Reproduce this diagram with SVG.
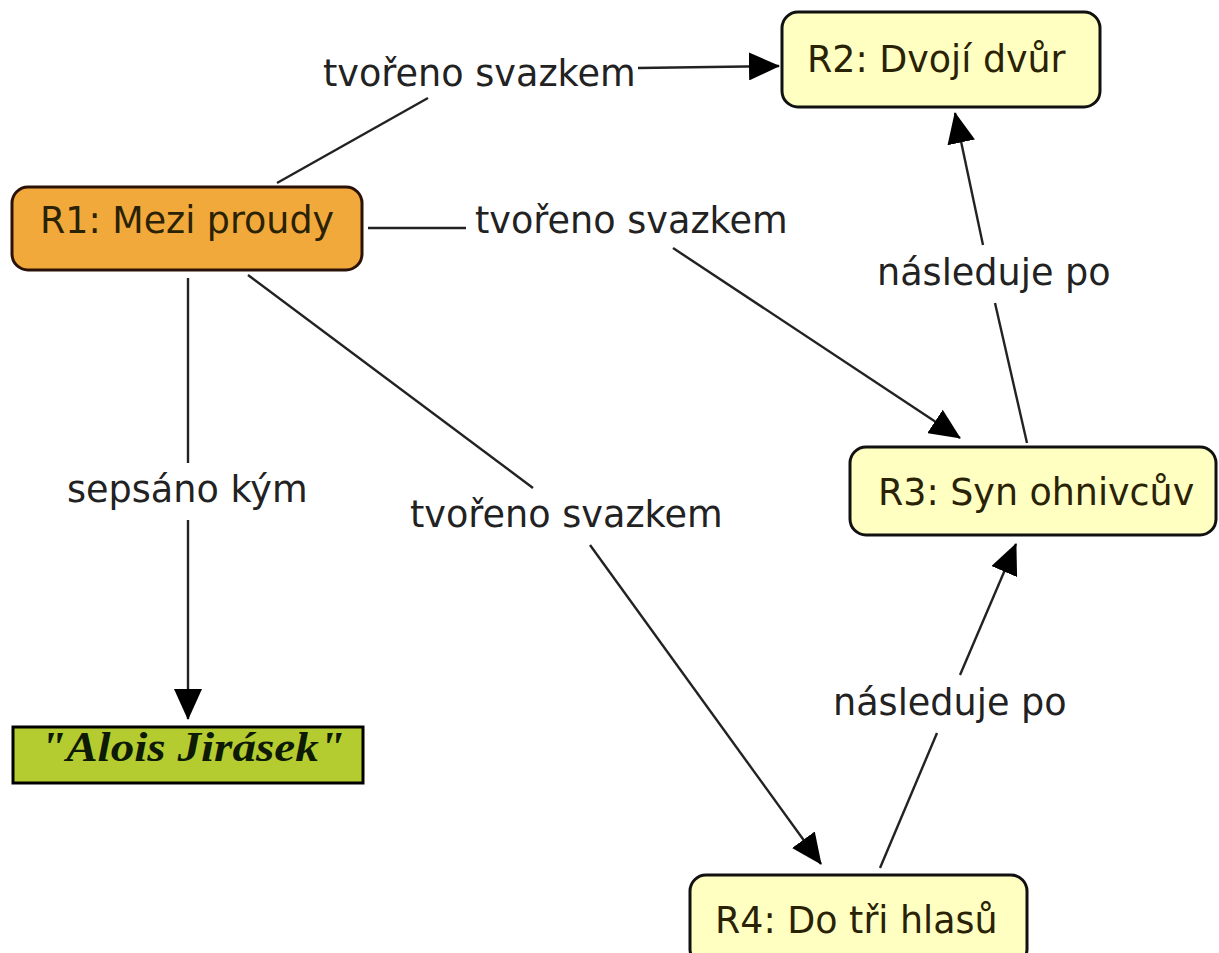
<svg xmlns="http://www.w3.org/2000/svg" width="1219" height="953" viewBox="0 0 1219 953">
<style>
.lbl{font-family:"DejaVu Sans","Verdana",sans-serif;font-size:36.6px;fill:#222}
.ntx{font-family:"DejaVu Sans","Verdana",sans-serif;font-size:36.4px;fill:#2a2205}
.conn line{stroke:#222;stroke-width:2.4}
.y{fill:#ffffc2;stroke:#111;stroke-width:3}
</style>
<defs>
<marker id="ah" markerUnits="userSpaceOnUse" markerWidth="31" markerHeight="28" refX="30" refY="14" orient="auto">
<path d="M0,0 L31,14 L0,28 z" fill="#000"/>
</marker>
</defs>
<rect width="1219" height="953" fill="#fff"/>
<g class="conn" id="connectors">
<line x1="277" y1="183" x2="428" y2="98"/>
<line x1="638" y1="68" x2="779" y2="66" marker-end="url(#ah)"/>
<line x1="368" y1="228" x2="466" y2="228"/>
<line x1="673" y1="248" x2="960" y2="438" marker-end="url(#ah)"/>
<line x1="248" y1="275" x2="533" y2="488"/>
<line x1="590" y1="545" x2="821" y2="864" marker-end="url(#ah)"/>
<line x1="188" y1="278" x2="188" y2="463"/>
<line x1="188" y1="520" x2="188" y2="719" marker-end="url(#ah)"/>
<line x1="880" y1="868" x2="937" y2="733"/>
<line x1="960" y1="675" x2="1016" y2="544" marker-end="url(#ah)"/>
<line x1="1027" y1="443" x2="995" y2="303"/>
<line x1="983" y1="245" x2="955" y2="113" marker-end="url(#ah)"/>
</g>
<g id="labels">
<text class="lbl" x="323" y="86">tvořeno svazkem</text>
<text class="lbl" x="475" y="233">tvořeno svazkem</text>
<text class="lbl" x="410" y="527">tvořeno svazkem</text>
<text class="lbl" x="67" y="502">sepsáno kým</text>
<text class="lbl" x="833" y="715">následuje po</text>
<text class="lbl" x="877" y="285">následuje po</text>
</g>
<g id="R1">
<rect x="12" y="187" width="350" height="83" rx="16" fill="#f2a93b" stroke="#2a1208" stroke-width="3"/>
<text class="ntx" x="40" y="233">R1: Mezi proudy</text>
</g>
<g id="R2">
<rect class="y" x="782" y="12" width="318" height="95" rx="16"/>
<text class="ntx" x="807" y="72">R2: Dvojí dvůr</text>
</g>
<g id="R3">
<rect class="y" x="850" y="447" width="366" height="88" rx="16"/>
<text class="ntx" x="878" y="505">R3: Syn ohnivcův</text>
</g>
<g id="R4">
<rect class="y" x="690" y="875" width="337" height="90" rx="16"/>
<text class="ntx" x="715" y="933">R4: Do tři hlasů</text>
</g>
<g id="Alois">
<rect x="13" y="727" width="350" height="56" fill="#b5cc30" stroke="#000" stroke-width="3"/>
<text x="40" y="761" font-family="'Liberation Serif', serif" font-style="italic" font-weight="bold" font-size="42" fill="#0d1a05" textLength="305" lengthAdjust="spacingAndGlyphs">"Alois Jirásek"</text>
</g>
</svg>
